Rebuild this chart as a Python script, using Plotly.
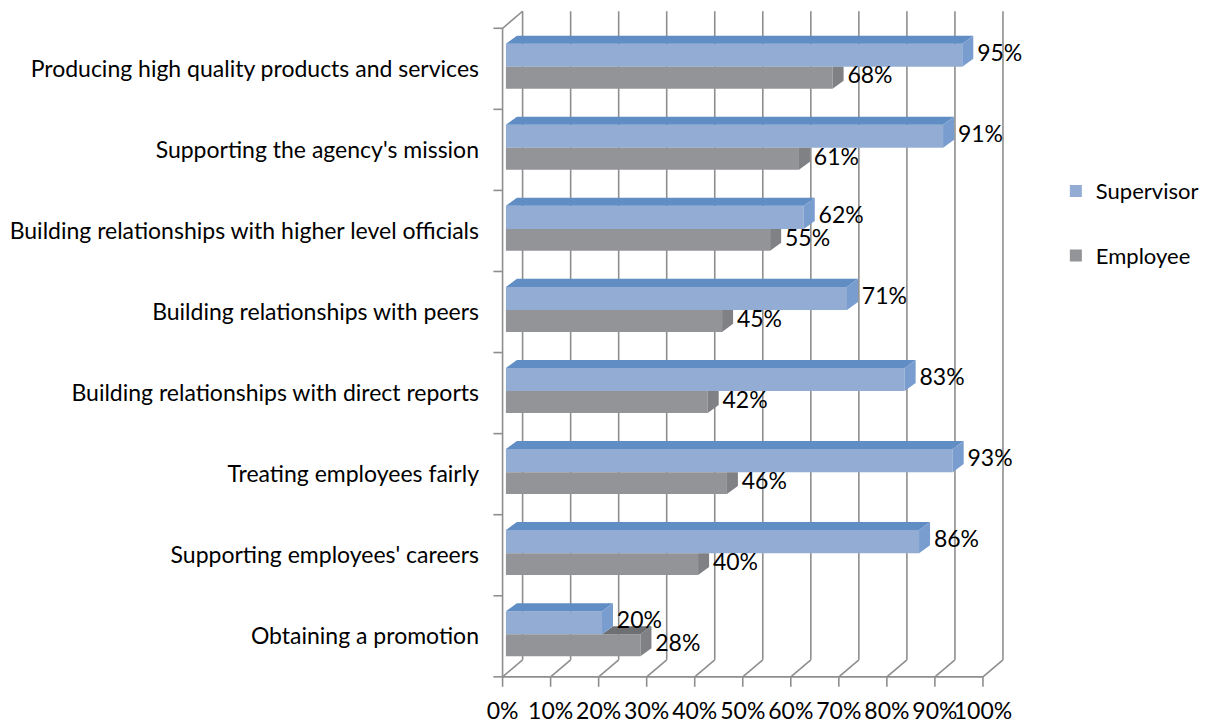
import plotly.graph_objects as go

# ---------------- data ----------------
categories = [
    "Producing high quality products and services",
    "Supporting the agency's mission",
    "Building relationships with higher level officials",
    "Building relationships with peers",
    "Building relationships with direct reports",
    "Treating employees fairly",
    "Supporting employees' careers",
    "Obtaining a promotion",
]
supervisor = [95, 91, 62, 71, 83, 93, 86, 20]
employee = [68, 61, 55, 45, 42, 46, 40, 28]
x_ticks = [0, 10, 20, 30, 40, 50, 60, 70, 80, 90, 100]
x_tick_labels = [f"{t}%" for t in x_ticks]

# ---------------- styling / geometry (data units) ----------------
FONT = "Lato"
FS = 23
GRID = "#8E8E8E"
SUP_FRONT, SUP_TOP, SUP_SIDE = "#93ACD3", "#5F8DC4", "#7A9DCF"
EMP_FRONT, EMP_TOP, EMP_SIDE = "#939498", "#6E6F73", "#808185"

n = len(categories)
pos = [n - 1 - k + 0.5 for k in range(n)]  # band centres, first category on top

DX, DY = 4.17, 0.21     # depth of the 3-D box
BX, BY = 2.29, 0.099    # depth of each bar
X0 = 0.7                # bar base
SUP_OFF, SUP_W = 0.025, 0.285
EMP_OFF, EMP_W = -0.245, 0.27
LBL_GAP = 0.8

fig = go.Figure()

# front faces (real bars)
fig.add_trace(go.Bar(
    name="Supervisor", orientation="h", y=pos, x=supervisor, base=X0,
    width=SUP_W, offset=SUP_OFF, marker=dict(color=SUP_FRONT, line=dict(width=0)),
    legendgroup="sup", hoverinfo="skip"))
fig.add_trace(go.Bar(
    name="Employee", orientation="h", y=pos, x=employee, base=X0,
    width=EMP_W, offset=EMP_OFF, marker=dict(color=EMP_FRONT, line=dict(width=0)),
    legendgroup="emp", hoverinfo="skip"))


def poly_trace(polys, color):
    xs, ys = [], []
    for p in polys:
        for (a, b) in p:
            xs.append(a)
            ys.append(b)
        xs.append(None)
        ys.append(None)
    return go.Scatter(x=xs, y=ys, mode="lines", fill="toself", fillcolor=color,
                      line=dict(width=0, color=color), hoverinfo="skip",
                      showlegend=False, connectgaps=False)


emp_top, emp_side, sup_top, sup_side = [], [], [], []
for p, s, e in zip(pos, supervisor, employee):
    syb = p + SUP_OFF
    syt = syb + SUP_W
    sx1 = X0 + s
    eyb = p + EMP_OFF
    eyt = eyb + EMP_W
    ex1 = X0 + e
    sup_top.append([(X0, syt), (sx1, syt), (sx1 + BX, syt + BY), (X0 + BX, syt + BY)])
    sup_side.append([(sx1, syb), (sx1, syt), (sx1 + BX, syt + BY), (sx1 + BX, syb + BY)])
    if ex1 > sx1:
        emp_top.append([(sx1, eyt), (ex1, eyt), (ex1 + BX, eyt + BY), (sx1 + BX, eyt + BY)])
        emp_side.append([(ex1, eyb), (ex1, eyt), (ex1 + BX, eyt + BY), (ex1 + BX, eyb + BY)])
    else:
        emp_side.append([(ex1, eyb), (ex1, eyt), (ex1 + BX, eyt), (ex1 + BX, eyb + BY)])

fig.add_trace(poly_trace(emp_top, EMP_TOP))
fig.add_trace(poly_trace(emp_side, EMP_SIDE))
fig.add_trace(poly_trace(sup_top, SUP_TOP))
fig.add_trace(poly_trace(sup_side, SUP_SIDE))

# data labels
fig.add_trace(go.Scatter(
    x=[X0 + v + BX + LBL_GAP for v in supervisor], y=[p + SUP_OFF + SUP_W / 2 for p in pos],
    mode="text", text=[f"{v}%" for v in supervisor], textposition="middle right",
    textfont=dict(family=FONT, size=FS, color="black"), cliponaxis=False,
    showlegend=False, hoverinfo="skip"))
fig.add_trace(go.Scatter(
    x=[X0 + v + BX + LBL_GAP for v in employee], y=[p + EMP_OFF + EMP_W / 2 for p in pos],
    mode="text", text=[f"{v}%" for v in employee], textposition="middle right",
    textfont=dict(family=FONT, size=FS, color="black"), cliponaxis=False,
    showlegend=False, hoverinfo="skip"))

# wall / floor lines (below traces)
shapes = []
ln = dict(color=GRID, width=1.6)


def seg(x0, y0, x1, y1):
    shapes.append(dict(type="line", xref="x", yref="y", x0=x0, y0=y0, x1=x1, y1=y1,
                       line=ln, layer="below"))


for t in x_ticks:
    seg(t + DX, DY, t + DX, n + DY)      # back wall verticals
    seg(t, 0, t + DX, DY)                # floor diagonals
    seg(t, 0, t, -0.123)                 # front tick marks
seg(0, 0, x_ticks[-1], 0)                # front floor edge
seg(0, 0, 0, n)                          # front left axis
seg(0, n, DX, n + DY)                    # top-left diagonal
for i in range(n + 1):
    seg(-1.9, i, 0, i)                   # left tick marks

# the page body adds an 8px margin, so the figure is drawn 8px smaller and offset
fig.update_layout(
    width=1201, height=715,
    margin=dict(l=484, r=203, t=0, b=34, autoexpand=False),
    paper_bgcolor="white", plot_bgcolor="white",
    barmode="overlay",
    shapes=shapes,
    font=dict(family=FONT, size=FS, color="black"),
    showlegend=True,
    legend=dict(x=1.097, xanchor="left", y=0.762, yanchor="top",
                font=dict(family=FONT, size=22, color="black"),
                tracegroupgap=33, traceorder="grouped",
                bgcolor="rgba(0,0,0,0)"),
    xaxis=dict(range=[-2.2, 104.8], tickvals=x_ticks, ticktext=x_tick_labels,
               ticks="", showgrid=False, zeroline=False, showline=False,
               tickangle=0, automargin=False,
               ticklabelstandoff=6, fixedrange=True),
    yaxis=dict(range=[-0.15, 8.25], tickvals=pos, ticktext=categories,
               ticks="", showgrid=False, zeroline=False, showline=False,
               automargin=False,
               ticklabelstandoff=12, fixedrange=True),
)

fig.write_html("out.html")
